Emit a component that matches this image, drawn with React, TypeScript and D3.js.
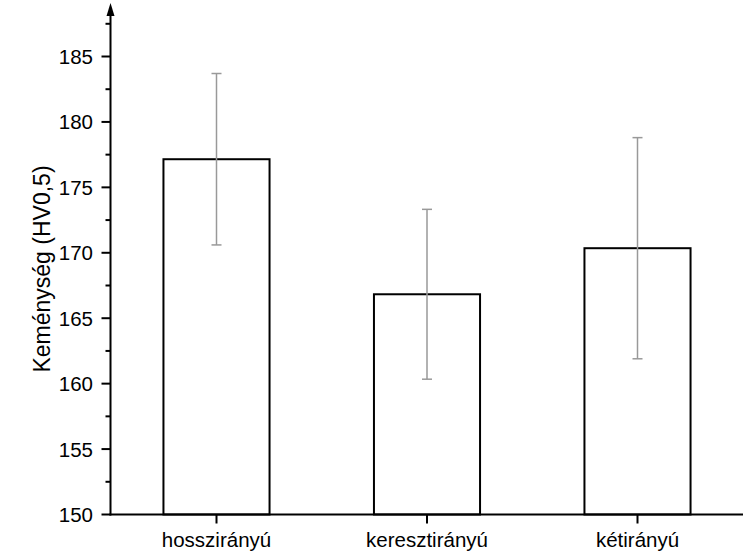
import React from "react";
import * as d3 from "d3";

const categories = ["hosszirányú", "keresztirányú", "kétirányú"];
const means = [177.15, 166.83, 170.35];
const errors = [6.55, 6.49, 8.45];
const yTicks = [150, 155, 160, 165, 170, 175, 180, 185];
const yMinorTicks = [152.5, 157.5, 162.5, 167.5, 172.5, 177.5, 182.5, 187.5];
const yTitle = "Keménység (HV0,5)";

const W = 751;
const H = 556;
const FONT = "'Liberation Sans', Arial, sans-serif";

export default function App() {
  const axisX = 110.5;
  const y = d3.scaleLinear().domain([150, 185]).range([514.5, 56.5]);
  const x = d3.scalePoint<string>().domain(categories).range([216.5, 637.5]);
  const barW = x.step() * 0.504;
  const capW = 10;
  const baseY = y(150);

  return (
    <svg
      width={W}
      height={H}
      style={{ position: "absolute", left: 0, top: 0, background: "#fff" }}
      fontFamily={FONT}
    >
      <rect x={0} y={0} width={W} height={H} fill="#fff" />
      {/* bars */}
      {categories.map((c, i) => (
        <rect
          key={c}
          x={(x(c) as number) - barW / 2}
          y={y(means[i])}
          width={barW}
          height={baseY - y(means[i])}
          fill="#fff"
          stroke="#000"
          strokeWidth={2}
        />
      ))}
      {/* error bars */}
      {categories.map((c, i) => {
        const cx = x(c) as number;
        const top = y(means[i] + errors[i]);
        const bot = y(means[i] - errors[i]);
        return (
          <g key={"e" + c} stroke="#999" strokeWidth={1.5}>
            <line x1={cx} x2={cx} y1={top} y2={bot} />
            <line x1={cx - capW / 2} x2={cx + capW / 2} y1={top} y2={top} />
            <line x1={cx - capW / 2} x2={cx + capW / 2} y1={bot} y2={bot} />
          </g>
        );
      })}
      {/* y axis */}
      <line x1={axisX} x2={axisX} y1={baseY + 1} y2={12} stroke="#000" strokeWidth={2} />
      <path
        d={`M${axisX},3 L${axisX - 4},16 L${axisX + 4},16 Z`}
        fill="#000"
      />
      {yTicks.map((t) => (
        <g key={"yt" + t}>
          <line x1={axisX - 9} x2={axisX} y1={y(t)} y2={y(t)} stroke="#000" strokeWidth={2} />
          <text
            x={93}
            y={y(t)}
            textAnchor="end"
            dominantBaseline="central"
            fontSize={20.5}
            fill="#000"
          >
            {t}
          </text>
        </g>
      ))}
      {yMinorTicks.map((t) => (
        <line
          key={"ym" + t}
          x1={axisX - 5}
          x2={axisX}
          y1={y(t)}
          y2={y(t)}
          stroke="#000"
          strokeWidth={2}
        />
      ))}
      {/* x axis */}
      <line x1={axisX - 1} x2={743} y1={baseY} y2={baseY} stroke="#000" strokeWidth={2} />
      {categories.map((c) => (
        <g key={"xt" + c}>
          <line
            x1={x(c) as number}
            x2={x(c) as number}
            y1={baseY}
            y2={baseY + 9}
            stroke="#000"
            strokeWidth={2}
          />
          <text x={x(c) as number} y={547} textAnchor="middle" fontSize={20.5} fill="#000">
            {c}
          </text>
        </g>
      ))}
      {/* y title */}
      <text
        transform={`translate(50, 269) rotate(-90)`}
        textAnchor="middle"
        fontSize={23}
        fill="#000"
      >
        {yTitle}
      </text>
    </svg>
  );
}
